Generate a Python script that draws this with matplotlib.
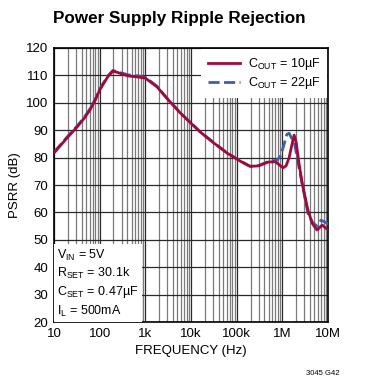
import matplotlib.pyplot as plt
from matplotlib.ticker import FixedLocator, NullFormatter
import numpy as np

# Data
freq_10 = [10, 15, 20, 32, 45, 61, 80, 100, 150, 195, 300, 417, 700, 1000, 1800, 3000,
           5800, 10e3, 16e3, 30e3, 61e3, 117e3, 195e3, 300e3, 490e3, 700e3,
           1.03e6, 1.2e6, 1.4e6, 1.6e6, 1.8e6, 2.0e6, 2.3e6, 2.7e6, 3.6e6,
           4.5e6, 5.7e6, 7.4e6, 10e6]
psrr_10 = [81.7, 85.1, 87.5, 91.2, 94.2, 97.4, 101.0, 104.7, 109.5, 111.6, 110.6, 109.8,
           109.4, 109.0, 105.8, 101.5, 96.3, 92.5, 89.3, 85.6, 81.7, 78.8,
           76.8, 77.0, 78.4, 78.5, 76.3, 77.0, 80.0, 84.5, 88.2, 85.5, 78.0,
           70.7, 60.9, 56.0, 53.6, 55.4, 53.6]

freq_22 = [10, 15, 20, 32, 45, 61, 80, 100, 150, 195, 300, 417, 700, 1000, 1800, 3000,
           5800, 10e3, 16e3, 30e3, 61e3, 117e3, 195e3, 300e3, 490e3, 760e3,
           0.9e6, 1.05e6, 1.25e6, 1.4e6, 1.6e6, 1.8e6, 2.2e6, 2.7e6, 3.6e6,
           4.5e6, 5.7e6, 7.0e6, 8.5e6, 10e6]
psrr_22 = [82.0, 85.4, 87.8, 91.5, 94.5, 97.7, 101.3, 105.0, 109.8, 111.8, 110.9, 110.2,
           109.8, 109.3, 106.0, 101.6, 96.4, 92.6, 89.4, 85.7, 81.8, 78.9,
           76.9, 77.1, 78.6, 79.1, 80.5, 84.0, 88.5, 88.9, 87.0, 86.0, 78.0,
           70.5, 59.8, 56.5, 55.0, 57.2, 56.5, 55.8]

yticks = [20, 30, 40, 50, 60, 70, 80, 90, 100, 110, 120]
xticks = [10, 100, 1e3, 1e4, 1e5, 1e6, 1e7]
xticklabels = ['10', '100', '1k', '10k', '100k', '1M', '10M']

plt.rcParams['font.family'] = ['Liberation Sans', 'DejaVu Sans']
plt.rcParams['mathtext.fontset'] = 'custom'
plt.rcParams['mathtext.rm'] = 'Liberation Sans'

fig = plt.figure(figsize=(3.65, 3.9), dpi=100)
ax = fig.add_axes([0.148, 0.174, 0.751, 0.703])

red = '#9E0B3A'
blue = '#3F5EAD'

l22, = ax.plot(freq_22, psrr_22, color=blue, lw=2.0, dashes=(4, 1.6), zorder=3)
l10, = ax.plot(freq_10, psrr_10, color=red, lw=2.0, zorder=4)

ax.set_xscale('log')
ax.set_xlim(10, 1e7)
ax.set_ylim(20, 120)
ax.set_yticks(yticks)
ax.set_xticks(xticks)
ax.set_xticklabels(xticklabels)
minor = [m * d for d in xticks[:-1] for m in range(2, 10)]
ax.xaxis.set_minor_locator(FixedLocator(minor))
ax.xaxis.set_minor_formatter(NullFormatter())
ax.tick_params(which='both', length=0, labelsize=9.5, pad=4)

ax.grid(which='major', axis='both', color='#2a2a2a', lw=0.9)
ax.grid(which='minor', axis='x', color='#7a7a7a', lw=0.9)
ax.set_axisbelow(True)
for s in ax.spines.values():
    s.set_linewidth(1.2)

ax.set_xlabel('FREQUENCY (Hz)', fontsize=9.5, labelpad=4)
ax.set_ylabel('PSRR (dB)', fontsize=9.5)
fig.suptitle('Power Supply Ripple Rejection', fontsize=12.3, fontweight='bold', x=0.49, y=0.972)

leg = ax.legend([l10, l22], [r'C$_{\mathrm{OUT}}$ = 10µF', r'C$_{\mathrm{OUT}}$ = 22µF'],
                loc='upper right', fontsize=9, frameon=True, fancybox=False,
                handlelength=2.6, borderaxespad=0.1, labelspacing=0.25,
                handletextpad=0.6, borderpad=0.55)
leg.get_frame().set_edgecolor('none')
leg.get_frame().set_alpha(1)
leg.set_zorder(5)

ax.text(0.012, 0.012,
        'V$_{\\mathrm{IN}}$ = 5V\nR$_{\\mathrm{SET}}$ = 30.1k\nC$_{\\mathrm{SET}}$ = 0.47µF\nI$_{\\mathrm{L}}$ = 500mA',
        transform=ax.transAxes, fontsize=9, va='bottom', ha='left', linespacing=1.3,
        bbox=dict(facecolor='white', edgecolor='none', pad=2.5), zorder=5)

fig.text(0.885, 0.043, '3045 G42', fontsize=5.5, ha='center', va='center')

fig.savefig('out.png', dpi=100)
